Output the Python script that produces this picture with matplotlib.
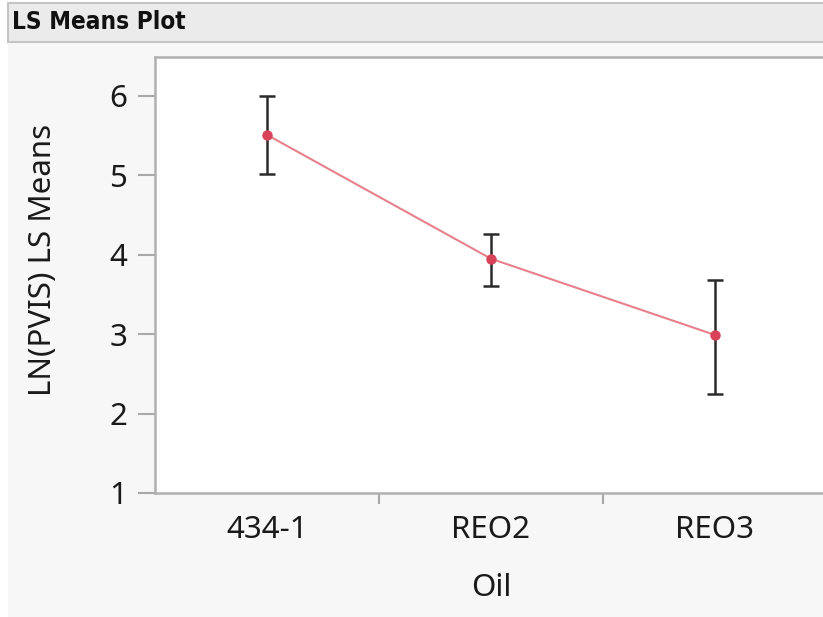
import numpy as np
import matplotlib.pyplot as plt
from matplotlib.patches import Rectangle

# LS means with confidence limits
oils = ["434-1", "REO2", "REO3"]
means = [5.51, 3.95, 2.99]
upper = [6.00, 4.26, 3.68]
lower = [5.02, 3.61, 2.25]

W, H = 823, 617
fig = plt.figure(figsize=(W / 100, H / 100), dpi=100)
fig.patch.set_facecolor("white")

# panel background and header bar
fig.patches.append(Rectangle((8 / W, 0), 1, 1 - 42 / H, transform=fig.transFigure,
                             facecolor="#f7f7f7", edgecolor="none", zorder=-2))
fig.patches.append(Rectangle((8 / W, 1 - 42 / H), 1, 39 / H, transform=fig.transFigure,
                             facecolor="#ebebeb", edgecolor="#c4c4c4", lw=1.5, zorder=-1))
fig.text(12 / W, 1 - 22 / H, "LS Means Plot", fontsize=17.5, fontweight="bold",
         family="DejaVu Sans", fontstretch="condensed", va="center", ha="left",
         color="#111111")

ax = fig.add_axes([155 / W, 124 / H, 672 / W, (493 - 57) / H])
ax.set_facecolor("white")

x = np.arange(len(oils))
m = np.array(means)
ax.errorbar(x, m, yerr=[m - np.array(lower), np.array(upper) - m], fmt="none",
            ecolor="#2b2b2b", elinewidth=1.8, capsize=5.5, capthick=1.8, zorder=2)
ax.plot(x, m, "-", color="#e8808c", lw=1.5, zorder=3)
ax.plot(x, m, "o", color="#d9435a", ms=6.5, zorder=4)

ax.set_xlim(-0.5, 2.5)
ax.set_ylim(1, 6.49)
ax.set_yticks([1, 2, 3, 4, 5, 6])
ax.set_xticks(x)
ax.set_xticklabels(oils)
ax.set_xticks([0.5, 1.5], minor=True)
ax.tick_params(axis="x", which="major", length=0, pad=16, labelsize=22.5, labelcolor="#1a1a1a")
ax.tick_params(axis="x", which="minor", length=8, width=1.5, color="#a8a8a8")
ax.tick_params(axis="y", length=12, width=1.5, color="#a8a8a8", pad=8,
               labelsize=22.5, labelcolor="#1a1a1a")
for lab in ax.get_xticklabels() + ax.get_yticklabels():
    lab.set_family("Noto Sans")

for s in ["left", "bottom", "top"]:
    ax.spines[s].set_color("#b0b0b0")
    ax.spines[s].set_linewidth(1.8)
ax.spines["right"].set_visible(False)

ax.set_xlabel("Oil", fontsize=22.5, family="Noto Sans", color="#1a1a1a", labelpad=20)
ax.set_ylabel("LN(PVIS) LS Means", fontsize=22.5, family="Noto Sans", color="#1a1a1a")
ax.yaxis.set_label_coords(-0.145, 0.534)

fig.savefig("out.png", dpi=100)
